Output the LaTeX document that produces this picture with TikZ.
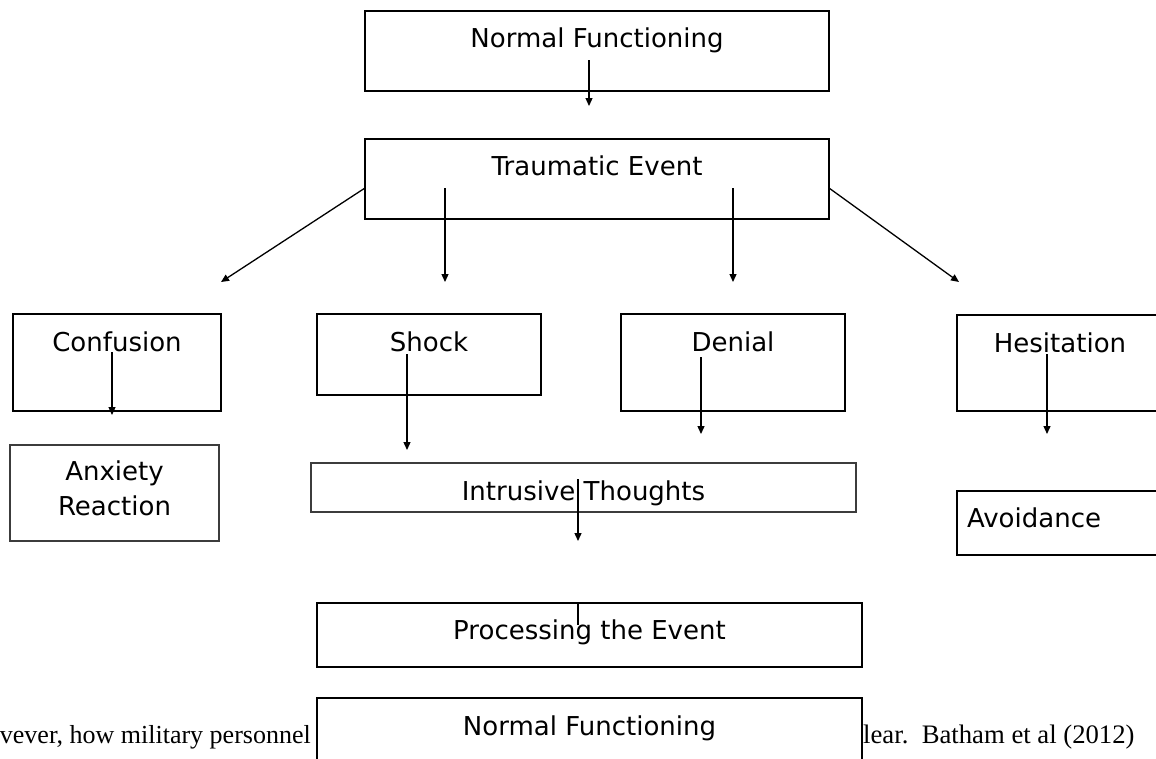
\documentclass[tikz,border=0pt]{standalone}
\usepackage{fontspec}
\setmainfont{Liberation Serif}
\newfontfamily\chartfont{DejaVu Sans}
\usetikzlibrary{arrows.meta}

\definecolor{chartcolor0000}{RGB}{255,255,255}
\definecolor{chartcolor0001}{RGB}{0,0,0}
\definecolor{chartcolor0002}{RGB}{60,60,60}

\begin{document}
\begin{tikzpicture}[yscale=-1
,pbox/.style={draw=chartcolor0001,fill=chartcolor0000,line width=2.2pt,inner sep=0pt,font=\chartfont\fontsize{26}{35}\selectfont}
,pthin/.style={pbox,draw=chartcolor0002,line width=1.5pt}
,pflow/.style={color=chartcolor0001,line width=1.3pt,-{Triangle[width=7pt,length=8pt]}}
,pline/.style={color=chartcolor0001,line width=1.3pt}
,pprose/.style={inner sep=0pt,font=\fontsize{26.7}{32}\selectfont}
]
\path[use as bounding box,fill=chartcolor0000] (0pt,0pt) rectangle (1156pt,758pt);
\clip (0pt,0pt) rectangle (1156pt,758pt);
% text of the page behind the chart
\node[pprose,font=\fontsize{26}{32}\selectfont,anchor=base east] (proseLeft) at (311pt,743pt) {vever, how military personnel};
\node[pprose,anchor=base west] (proseRight) at (863pt,743pt) {lear.\ \ Batham et al (2012)};
% boxes
\node[pbox,minimum width=464pt,text height=36pt,text depth=44pt] (normalTop) at (597pt,51pt) {Normal Functioning};
\node[pbox,minimum width=464pt,text height=36pt,text depth=44pt] (trauma) at (597pt,179pt) {Traumatic Event};
\node[pbox,minimum width=208pt,text height=37pt,text depth=60pt] (confusion) at (117pt,362.5pt) {Confusion};
\node[pbox,minimum width=224pt,text height=37pt,text depth=44pt] (shock) at (429pt,354.5pt) {Shock};
\node[pbox,minimum width=224pt,text height=37pt,text depth=60pt] (denial) at (733pt,362.5pt) {Denial};
\node[pbox,minimum width=206pt,text height=37pt,text depth=59pt] (hesitation) at (1060pt,363pt) {Hesitation};
\node[pthin,minimum width=209pt,text height=70pt,text depth=26pt,align=center] (anxiety) at (114.5pt,493pt) {Anxiety\\Reaction};
\node[pthin,minimum width=545pt,text height=37pt,text depth=12pt] (intrusive) at (583.5pt,487.5pt) {Intrusive Thoughts};
\node[pbox,text width=186pt,inner xsep=10pt,align=left,text height=36pt,text depth=28pt] (avoidance) at (1060pt,523pt) {Avoidance};
\node[pbox,minimum width=545pt,text height=36pt,text depth=28pt] (processing) at (589.5pt,635pt) {Processing the Event};
\node[pbox,minimum width=545pt,text height=37pt,text depth=63pt] (normalBottom) at (589.5pt,748pt) {Normal Functioning};
% arrow ends
\coordinate (normalTop-out) at (589pt,60pt);
\coordinate (trauma-in) at (589pt,106pt);
\coordinate (trauma-outA) at (365pt,188pt);
\coordinate (trauma-outB) at (445pt,188pt);
\coordinate (trauma-outC) at (733pt,188pt);
\coordinate (trauma-outD) at (829pt,188pt);
\coordinate (confusion-in) at (221pt,282pt);
\coordinate (shock-in) at (445pt,282pt);
\coordinate (denial-in) at (733pt,282pt);
\coordinate (hesitation-in) at (959pt,282pt);
\coordinate (confusion-out) at (112pt,352pt);
\coordinate (anxiety-in) at (112pt,415pt);
\coordinate (shock-out) at (407pt,354pt);
\coordinate (intrusive-inA) at (407pt,450pt);
\coordinate (denial-out) at (701pt,357pt);
\coordinate (intrusive-inB) at (701pt,434pt);
\coordinate (hesitation-out) at (1047pt,354pt);
\coordinate (avoidance-in) at (1047pt,434pt);
\coordinate (intrusive-out) at (578pt,479pt);
\coordinate (processing-in) at (578pt,541pt);
\coordinate (processing-out) at (578pt,602pt);
\coordinate (processing-end) at (578pt,625pt);
% connectors
\draw[pflow] (normalTop-out) -- (trauma-in);
\draw[pflow] (trauma-outA) -- (confusion-in);
\draw[pflow] (trauma-outB) -- (shock-in);
\draw[pflow] (trauma-outC) -- (denial-in);
\draw[pflow] (trauma-outD) -- (hesitation-in);
\draw[pflow] (confusion-out) -- (anxiety-in);
\draw[pflow] (shock-out) -- (intrusive-inA);
\draw[pflow] (denial-out) -- (intrusive-inB);
\draw[pflow] (hesitation-out) -- (avoidance-in);
\draw[pflow] (intrusive-out) -- (processing-in);
\draw[pline] (processing-out) -- (processing-end);
\end{tikzpicture}
\end{document}
